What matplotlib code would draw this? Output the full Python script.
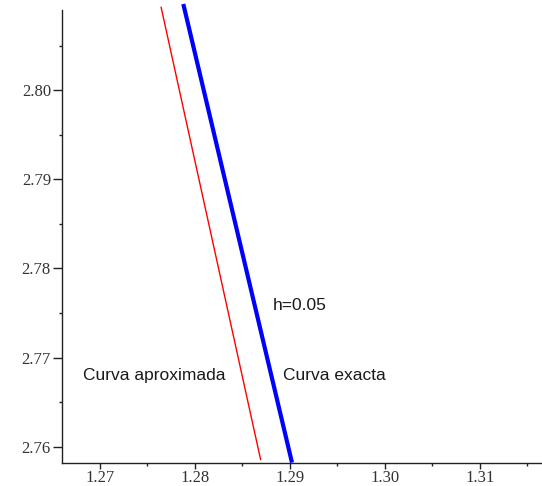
import matplotlib
matplotlib.use("Agg")
import matplotlib.pyplot as plt
from matplotlib.ticker import FixedLocator, FuncFormatter

# Approximate (Euler, h=0.05) and exact solution curves near the crossing region
x_aprox = [1.27642, 1.28692]
y_aprox = [2.80938, 2.75850]
x_exacta = [1.27877, 1.29021]
y_exacta = [2.80968, 2.75822]

x_ticks = [1.27, 1.28, 1.29, 1.30, 1.31]
y_ticks = [2.76, 2.77, 2.78, 2.79, 2.80]
x_minor = [1.275, 1.285, 1.295, 1.305, 1.315]
y_minor = [2.765, 2.775, 2.785, 2.795, 2.805]

fig = plt.figure(figsize=(5.42, 4.86), dpi=100)
ax = fig.add_axes([62 / 542, (486 - 463.3) / 486, 1 - 62 / 542, 463.3 / 486])

ax.plot(x_aprox, y_aprox, color="#ff0000", lw=1.0, solid_capstyle="butt", clip_on=False)
ax.plot(x_exacta, y_exacta, color="#0000ff", lw=3.0, solid_capstyle="butt", clip_on=False)

ax.set_xlim(1.26600, 1.31653)
ax.set_ylim(2.75814, 2.81013)

for s in ("top", "right"):
    ax.spines[s].set_visible(False)
for s in ("left", "bottom"):
    ax.spines[s].set_color("#222222")
    ax.spines[s].set_linewidth(1.0)
ax.spines["left"].set_bounds(2.75814, 2.80901)

ax.xaxis.set_major_locator(FixedLocator(x_ticks))
ax.yaxis.set_major_locator(FixedLocator(y_ticks))
ax.xaxis.set_minor_locator(FixedLocator(x_minor))
ax.yaxis.set_minor_locator(FixedLocator(y_minor))
fmt = FuncFormatter(lambda v, p: f"{v:.2f}")
ax.xaxis.set_major_formatter(fmt)
ax.yaxis.set_major_formatter(fmt)

ax.tick_params(axis="y", which="major", length=6.5, width=1, color="#222222",
               labelsize=12, labelcolor="#333333", pad=1.5)
ax.tick_params(axis="x", which="major", length=4, width=1, color="#222222",
               labelsize=12, labelcolor="#333333", pad=1)
ax.tick_params(axis="both", which="minor", length=2.5, width=1, color="#222222")
for lab in ax.get_xticklabels() + ax.get_yticklabels():
    lab.set_family("Liberation Serif")

txt = dict(fontsize=12.5, family="Liberation Sans", color="#1a1a1a", va="center")
ax.text(1.28818, 2.77590, "h=0.05", ha="left", **txt)
ax.text(1.26821, 2.76799, "Curva aproximada", ha="left", **txt)
ax.text(1.28926, 2.76799, "Curva exacta", ha="left", **txt)

fig.savefig("out.png", dpi=100)
